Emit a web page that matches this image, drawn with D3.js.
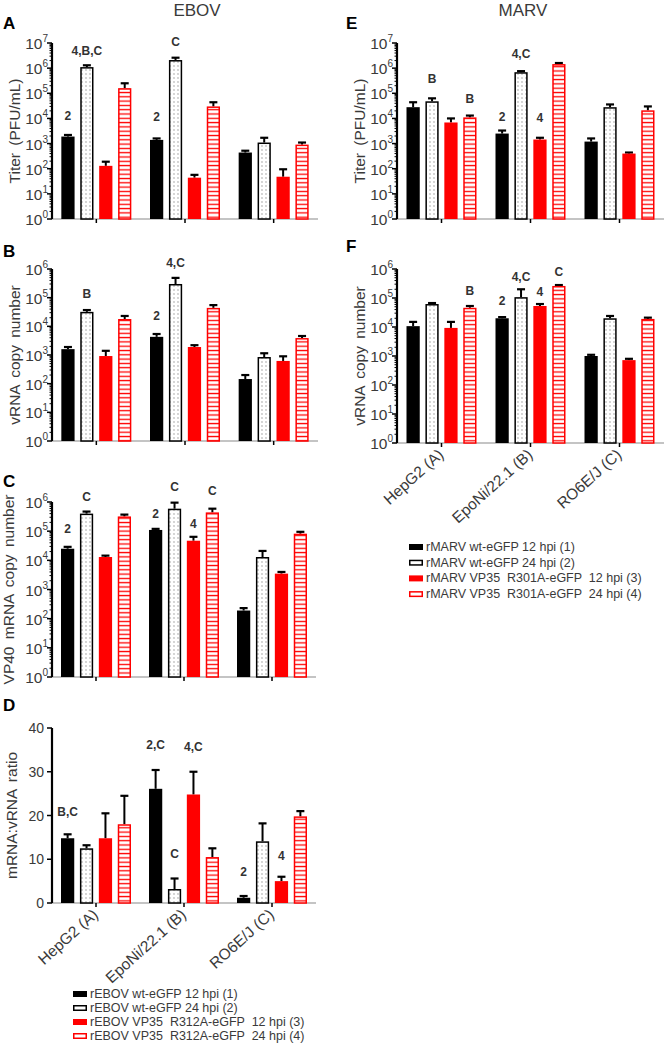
<!DOCTYPE html>
<html><head><meta charset="utf-8">
<script src="https://cdn.jsdelivr.net/npm/d3@7"></script>
<style>
body{margin:0;background:#fff}
svg{display:block}
text{font-family:"Liberation Sans",Arial,sans-serif}
</style>
</head><body>
<svg id="chart" width="665" height="1049"></svg>
<script>
// ---------------- DATA ----------------
const groups = ["HepG2 (A)", "EpoNi/22.1 (B)", "RO6E/J (C)"];
const ebovSeries = ["rEBOV wt-eGFP 12 hpi (1)", "rEBOV wt-eGFP 24 hpi (2)", "rEBOV VP35  R312A-eGFP  12 hpi (3)", "rEBOV VP35  R312A-eGFP  24 hpi (4)"];
const marvSeries = ["rMARV wt-eGFP 12 hpi (1)", "rMARV wt-eGFP 24 hpi (2)", "rMARV VP35  R301A-eGFP  12 hpi (3)", "rMARV VP35  R301A-eGFP  24 hpi (4)"];

// Panel A: EBOV titer (PFU/mL); one row per series, columns = groups
const titerEbovMean = [[1.9e3, 1.4e3, 4.4e2], [1.1e6, 2.1e6, 1.1e3], [1.3e2, 44, 48], [1.6e5, 3.0e4, 9.1e2]];
const titerEbovUpper = [[2.2e3, 1.6e3, 5.2e2], [1.3e6, 2.6e6, 1.7e3], [1.9e2, 57, 95], [2.5e5, 4.4e4, 1.1e3]];
const titerEbovNotes = [[0, 0, "2", 3.94], [0, 1, "4,B,C", 6.52], [1, 1, "C", 6.88], [1, 0, "2", 3.9]];

// Panel B: EBOV vRNA copy number
const vrnaEbovMean = [[1.6e3, 4.3e3, 1.45e2], [3.2e4, 3.0e5, 8.5e2], [9.2e2, 1.9e3, 6.2e2], [1.8e4, 4.4e4, 3.9e3]];
const vrnaEbovUpper = [[1.9e3, 5.4e3, 2.0e2], [3.7e4, 4.9e5, 1.15e3], [1.4e3, 2.2e3, 9.0e2], [2.3e4, 5.5e4, 4.6e3]];
const vrnaEbovNotes = [[0, 1, "B", 5.0], [1, 1, "4,C", 6.07], [1, 0, "2", 4.22]];

// Panel C: EBOV VP40 mRNA copy number
const mrnaEbovMean = [[2.5e4, 1.1e5, 1.9e2], [4.0e5, 5.9e5, 1.3e4], [1.3e4, 4.7e4, 3.5e3], [3.2e5, 4.4e5, 8.2e4]];
const mrnaEbovUpper = [[2.9e4, 1.2e5, 2.3e2], [4.7e5, 9.5e5, 2.1e4], [1.45e4, 6.4e4, 4.0e3], [3.7e5, 5.9e5, 9.5e4]];
const mrnaEbovNotes = [[0, 1, "C", 6.03], [0, 0, "2", 4.94], [1, 1, "C", 6.38], [1, 0, "2", 5.45], [1, 2, "4", 5.11], [1, 3, "C", 6.24]];

// Panel D: EBOV mRNA:vRNA ratio
const ratioEbovMean = [[14.8, 26.1, 1.2], [12.5, 3.2, 14.1], [14.8, 24.8, 5.0], [18.0, 10.5, 19.8]];
const ratioEbovUpper = [[15.7, 30.4, 1.6], [13.2, 5.6, 18.2], [20.5, 30.0, 6.0], [24.5, 12.5, 21.0]];
const ratioEbovNotes = [[0, 0, "B,C", 19.9], [1, 0, "2,C", 35.2], [1, 2, "4,C", 34.7], [1, 1, "C", 10.3], [2, 0, "2", 6.2], [2, 2, "4", 9.8]];
const ratioTicks = [0, 10, 20, 30, 40];

// Panel E: MARV titer
const titerMarvMean = [[2.8e4, 2.5e3, 1.2e3], [4.8e4, 6.9e5, 2.8e4], [6.9e3, 1.45e3, 4.0e2], [1.1e4, 1.45e6, 2.1e4]];
const titerMarvUpper = [[4.4e4, 3.3e3, 1.6e3], [6.3e4, 7.6e5, 3.6e4], [1.0e4, 1.7e3, 4.4e2], [1.3e4, 1.6e6, 3.0e4]];
const titerMarvNotes = [[0, 1, "B", 5.41], [0, 3, "B", 4.61], [1, 1, "4,C", 6.4], [1, 0, "2", 3.9], [1, 2, "4", 3.86]];

// Panel F: MARV vRNA copy number
const vrnaMarvMean = [[1.07e4, 2.0e4, 1.0e3], [6.2e4, 1.07e5, 2.0e4], [9.3e3, 5.3e4, 7.2e2], [4.6e4, 2.6e5, 1.9e4]];
const vrnaMarvUpper = [[1.5e4, 2.2e4, 1.1e3], [6.7e4, 2.0e5, 2.4e4], [1.5e4, 6.2e4, 8.0e2], [5.3e4, 2.8e5, 2.1e4]];
const vrnaMarvNotes = [[0, 3, "B", 5.1], [1, 1, "4,C", 5.59], [1, 3, "C", 5.76], [1, 0, "2", 4.76], [1, 2, "4", 5.07]];

// ---------------- DRAWING ----------------
const svg = d3.select("#chart");
const RED = "#ff0000";
const defs = svg.append("defs");
const dots = defs.append("pattern").attr("id", "dots").attr("patternUnits", "userSpaceOnUse").attr("width", 4).attr("height", 4);
dots.append("rect").attr("width", 4).attr("height", 4).attr("fill", "#fff");
dots.append("circle").attr("cx", 2).attr("cy", 2).attr("r", 0.65).attr("fill", "#8a8a8a");
const hatch = defs.append("pattern").attr("id", "hatch").attr("patternUnits", "userSpaceOnUse").attr("width", 4).attr("height", 4.3);
hatch.append("rect").attr("width", 4).attr("height", 4.3).attr("fill", "#fff");
hatch.append("line").attr("x1", 0).attr("x2", 4).attr("y1", 2.2).attr("y2", 2.2).attr("stroke", RED).attr("stroke-width", 1.3);

const seriesStyle = [
  {fill: "#000", stroke: "#000"},
  {fill: "url(#dots)", stroke: "#000"},
  {fill: RED, stroke: RED},
  {fill: "url(#hatch)", stroke: RED}
];
const TXT = "#3a3a3a";

function panel(cfg) {
  const g = svg.append("g");
  const x = d3.scaleBand().domain(groups).range([cfg.x0, cfg.x1]).padding(0);
  const xs = d3.scaleBand().domain(d3.range(4)).range([-35, 35]).paddingInner(0.3).paddingOuter(0);
  let y;
  if (cfg.log) {
    y = d3.scaleLog().domain([1, Math.pow(10, cfg.maxExp)]).range([cfg.yBase, cfg.yTop]);
  } else {
    y = d3.scaleLinear().domain([0, d3.max(cfg.ticks)]).range([cfg.yBase, cfg.yTop]);
  }
  const base = cfg.yBase;

  // x axis line and ticks
  g.append("line").attr("x1", cfg.x0).attr("x2", cfg.x1).attr("y1", base).attr("y2", base)
    .attr("stroke", "#8a8a8a").attr("stroke-width", 1.2);
  g.selectAll(".xt").data(groups).join("line")
    .attr("x1", d => x(d) + x.bandwidth() / 2).attr("x2", d => x(d) + x.bandwidth() / 2)
    .attr("y1", base).attr("y2", base + 4).attr("stroke", "#000").attr("stroke-width", 1.5);

  // bars
  cfg.mean.forEach((row, s) => {
    row.forEach((v, gi) => {
      const gx = x(groups[gi]) + x.bandwidth() / 2 + xs(s);
      const w = xs.bandwidth();
      const st = seriesStyle[s];
      const yt = y(v);
      const up = cfg.upper[s][gi];
      const yu = y(up);
      const cx = gx + w / 2;
      g.append("line").attr("x1", cx).attr("x2", cx).attr("y1", yt).attr("y2", yu)
        .attr("stroke", "#000").attr("stroke-width", 2);
      g.append("line").attr("x1", cx - 4).attr("x2", cx + 4).attr("y1", yu).attr("y2", yu)
        .attr("stroke", "#000").attr("stroke-width", 2.2);
      const outline = (s === 1 || s === 3);
      g.append("rect")
        .attr("x", outline ? gx + 0.75 : gx).attr("y", outline ? yt + 0.75 : yt)
        .attr("width", outline ? w - 1.5 : w).attr("height", Math.max(0, base - yt - (outline ? 0.75 : 0)))
        .attr("fill", st.fill).attr("stroke", outline ? st.stroke : "none").attr("stroke-width", 1.5);
    });
  });

  // annotations
  cfg.notes.forEach(([gi, s, label, yv]) => {
    const cx = x(groups[gi]) + x.bandwidth() / 2 + xs(s) + xs.bandwidth() / 2;
    const yy = cfg.log ? y(Math.pow(10, yv)) : y(yv);
    g.append("text").attr("x", cx).attr("y", yy).attr("text-anchor", "middle")
      .attr("font-size", 12).attr("font-weight", "bold").attr("fill", "#333").text(label);
  });

  // y axis
  const ax = cfg.x0;
  if (cfg.log) {
    const majors = d3.range(0, cfg.maxExp + 1);
    const minors = [];
    for (let e = 0; e < cfg.maxExp; e++) for (let k = 2; k <= 9; k++) minors.push(k * Math.pow(10, e));
    g.selectAll(".mn").data(minors).join("line")
      .attr("x1", ax - 2.5).attr("x2", ax).attr("y1", d => y(d)).attr("y2", d => y(d))
      .attr("stroke", "#000").attr("stroke-width", 1);
    g.selectAll(".mj").data(majors).join("line")
      .attr("x1", ax - 5).attr("x2", ax).attr("y1", d => y(Math.pow(10, d))).attr("y2", d => y(Math.pow(10, d)))
      .attr("stroke", "#000").attr("stroke-width", 1.5);
    majors.forEach(e => {
      const t = g.append("text").attr("x", ax - 4).attr("y", y(Math.pow(10, e)) + 6)
        .attr("text-anchor", "end").attr("fill", TXT).attr("font-size", 15.5);
      t.append("tspan").text("10");
      t.append("tspan").attr("font-size", 10).attr("dy", -7).text(String(e));
    });
  } else {
    g.selectAll(".mj").data(cfg.ticks).join("line")
      .attr("x1", ax - 5).attr("x2", ax).attr("y1", d => y(d)).attr("y2", d => y(d))
      .attr("stroke", "#000").attr("stroke-width", 1.5);
    g.selectAll(".tl").data(cfg.ticks).join("text")
      .attr("x", ax - 8).attr("y", d => y(d) + 5).attr("text-anchor", "end")
      .attr("fill", TXT).attr("font-size", 14).text(d => d);
  }
  g.append("line").attr("x1", ax).attr("x2", ax).attr("y1", cfg.yTop).attr("y2", base)
    .attr("stroke", "#000").attr("stroke-width", 2.2);

  // y title
  g.append("text").attr("transform", `translate(${cfg.titleX},${(cfg.yTop + base) / 2}) rotate(-90)`)
    .attr("text-anchor", "middle").attr("fill", TXT).attr("font-size", 15.5)
    .attr("word-spacing", 3).text(cfg.ytitle);

  // panel letter
  g.append("text").attr("x", cfg.letterX).attr("y", cfg.letterY).attr("font-size", 17)
    .attr("font-weight", "bold").attr("fill", "#000").text(cfg.letter);

  // category labels
  if (cfg.xlabels) {
    g.selectAll(".xl").data(groups).join("text")
      .attr("transform", d => `translate(${x(d) + x.bandwidth() / 2 + 3},${base + 13}) rotate(-42)`)
      .attr("text-anchor", "end").attr("fill", TXT).attr("font-size", 15.5).text(d => d);
  }
}

panel({letter: "A", letterX: 3, letterY: 29, x0: 52, x1: 318, yBase: 219, yTop: 43, log: true, maxExp: 7,
  mean: titerEbovMean, upper: titerEbovUpper, notes: titerEbovNotes, ytitle: "Titer (PFU/mL)", titleX: 20});
panel({letter: "B", letterX: 3, letterY: 257, x0: 52, x1: 318, yBase: 441, yTop: 269, log: true, maxExp: 6,
  mean: vrnaEbovMean, upper: vrnaEbovUpper, notes: vrnaEbovNotes, ytitle: "vRNA copy number", titleX: 20});
panel({letter: "C", letterX: 3, letterY: 487, x0: 52, x1: 316, yBase: 677, yTop: 502, log: true, maxExp: 6,
  mean: mrnaEbovMean, upper: mrnaEbovUpper, notes: mrnaEbovNotes, ytitle: "VP40 mRNA copy number", titleX: 14});
panel({letter: "D", letterX: 3, letterY: 711, x0: 52, x1: 316, yBase: 903, yTop: 728, log: false, ticks: ratioTicks,
  mean: ratioEbovMean, upper: ratioEbovUpper, notes: ratioEbovNotes, ytitle: "mRNA:vRNA  ratio", titleX: 17, xlabels: true});
panel({letter: "E", letterX: 346, letterY: 29, x0: 397, x1: 664, yBase: 219, yTop: 43, log: true, maxExp: 7,
  mean: titerMarvMean, upper: titerMarvUpper, notes: titerMarvNotes, ytitle: "Titer (PFU/mL)", titleX: 365});
panel({letter: "F", letterX: 346, letterY: 252, x0: 397, x1: 664, yBase: 443, yTop: 269, log: true, maxExp: 6,
  mean: vrnaMarvMean, upper: vrnaMarvUpper, notes: vrnaMarvNotes, ytitle: "vRNA copy number", titleX: 365, xlabels: true});

// column titles
svg.append("text").attr("x", 197).attr("y", 16).attr("text-anchor", "middle").attr("font-size", 17).attr("fill", TXT).text("EBOV");
svg.append("text").attr("x", 523).attr("y", 16).attr("text-anchor", "middle").attr("font-size", 17).attr("fill", TXT).text("MARV");

// legends
function legend(names, lx, ly, dy) {
  const g = svg.append("g");
  names.forEach((n, i) => {
    const yy = ly + i * dy;
    const st = seriesStyle[i];
    const outline = (i === 1 || i === 3);
    g.append("rect").attr("x", lx + (outline ? 0.75 : 0)).attr("y", yy - 3 + (outline ? 0.75 : 0))
      .attr("width", outline ? 12.5 : 14).attr("height", outline ? 4.5 : 6)
      .attr("fill", outline ? "#fff" : st.fill).attr("stroke", outline ? st.stroke : "none").attr("stroke-width", 1.5);
    g.append("text").attr("x", lx + 17).attr("y", yy + 4).attr("font-size", 12.5).attr("fill", TXT)
      .attr("xml:space", "preserve").style("white-space", "pre").text(n);
  });
}
legend(ebovSeries, 73, 994, 14);
legend(marvSeries, 409, 547, 15.7);
</script>
</body></html>
